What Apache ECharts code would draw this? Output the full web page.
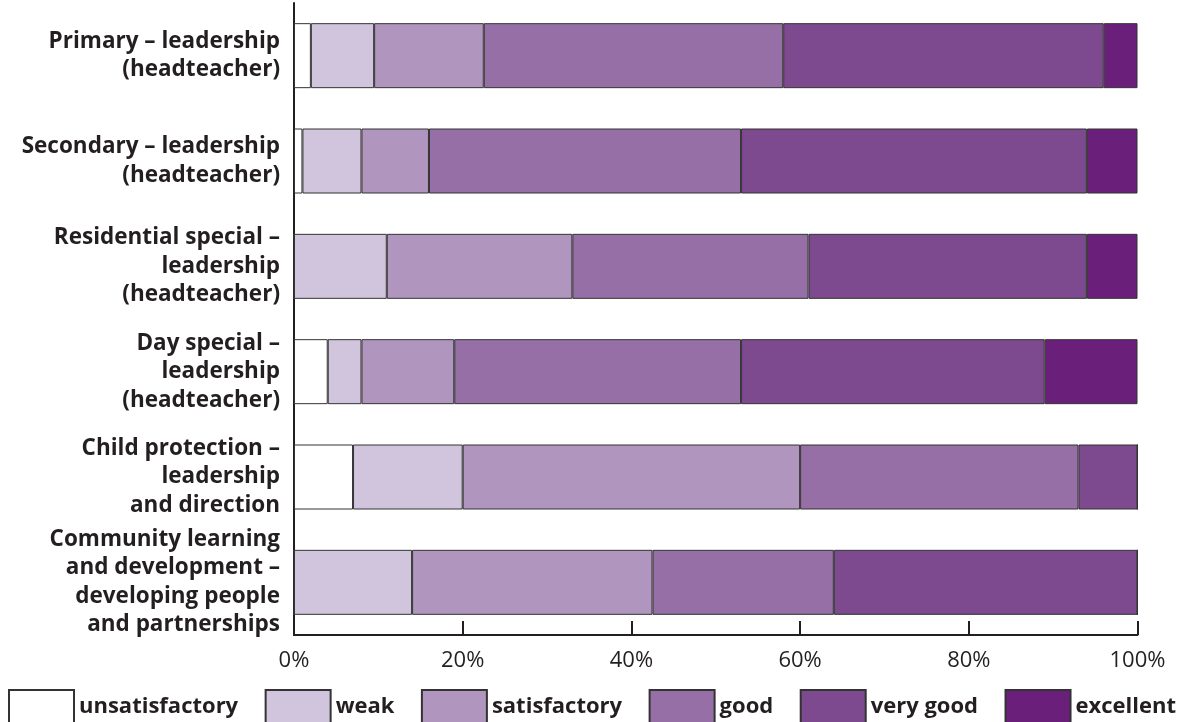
<!DOCTYPE html>
<html>
<head>
<meta charset="utf-8">
<script src="https://cdn.jsdelivr.net/npm/echarts@6/dist/echarts.min.js"></script>
<style>
html,body{margin:0;padding:0;background:#fff;}
#chart{width:1188px;height:722px;}
</style>
</head>
<body>
<div id="chart"></div>
<script>
const categories = [
  "Primary – leadership\n(headteacher)",
  "Secondary – leadership\n(headteacher)",
  "Residential special –\nleadership\n(headteacher)",
  "Day special –\nleadership\n(headteacher)",
  "Child protection –\nleadership\nand direction",
  "Community learning\nand development –\ndeveloping people\nand partnerships"
];
const seriesNames = ["unsatisfactory", "weak", "satisfactory", "good", "very good", "excellent"];
const unsatisfactory = [2, 1, 0, 4, 7, 0];
const weak = [7.5, 7, 11, 4, 13, 14];
const satisfactory = [13, 8, 22, 11, 40, 28.5];
const good = [35.5, 37, 28, 34, 33, 21.5];
const veryGood = [38, 41, 33, 36, 7, 36];
const excellent = [4, 6, 6, 11, 0, 0];
const xTicks = [0, 20, 40, 60, 80, 100];

const colors = ["#FFFFFF", "#D1C4DD", "#B095BE", "#956FA5", "#7D4A8F", "#6A1F7A"];
const seriesData = [unsatisfactory, weak, satisfactory, good, veryGood, excellent];
const ink = "#231F20";
const font = "'Open Sans', 'Noto Sans', sans-serif";

const chart = echarts.init(document.getElementById("chart"), null, {renderer: "canvas"});
chart.setOption({
  animation: false,
  backgroundColor: "#ffffff",
  grid: {left: 294, right: 50.5, top: 3, bottom: 87, containLabel: false},
  legend: {
    data: seriesNames.map(n => ({name: n, icon: "rect"})),
    left: 8,
    top: 689,
    padding: 0,
    itemWidth: 65,
    itemHeight: 33,
    itemGap: 26.5,
    selectedMode: false,
    textStyle: {fontFamily: font, fontWeight: "bold", fontSize: 22, color: ink}
  },
  xAxis: {
    type: "value",
    min: xTicks[0],
    max: xTicks[xTicks.length - 1],
    interval: xTicks[1] - xTicks[0],
    splitLine: {show: false},
    axisLine: {show: true, lineStyle: {color: ink, width: 2}},
    axisTick: {show: true, inside: true, length: 14, lineStyle: {color: ink, width: 2}},
    axisLabel: {
      formatter: v => v + "%",
      fontFamily: font, fontSize: 22, color: ink, margin: 15
    }
  },
  yAxis: {
    type: "category",
    inverse: true,
    data: categories,
    axisLine: {show: true, lineStyle: {color: ink, width: 2}},
    axisTick: {show: false},
    axisLabel: {
      fontFamily: font, fontWeight: "bold", fontSize: 22.5, color: ink,
      lineHeight: 28.5, align: "right", margin: 14
    }
  },
  series: seriesNames.map((name, i) => ({
    name: name,
    type: "bar",
    stack: "total",
    barWidth: 65,
    data: seriesData[i],
    itemStyle: {color: colors[i], borderColor: "#333333", borderWidth: 1}
  }))
});
</script>
</body>
</html>
